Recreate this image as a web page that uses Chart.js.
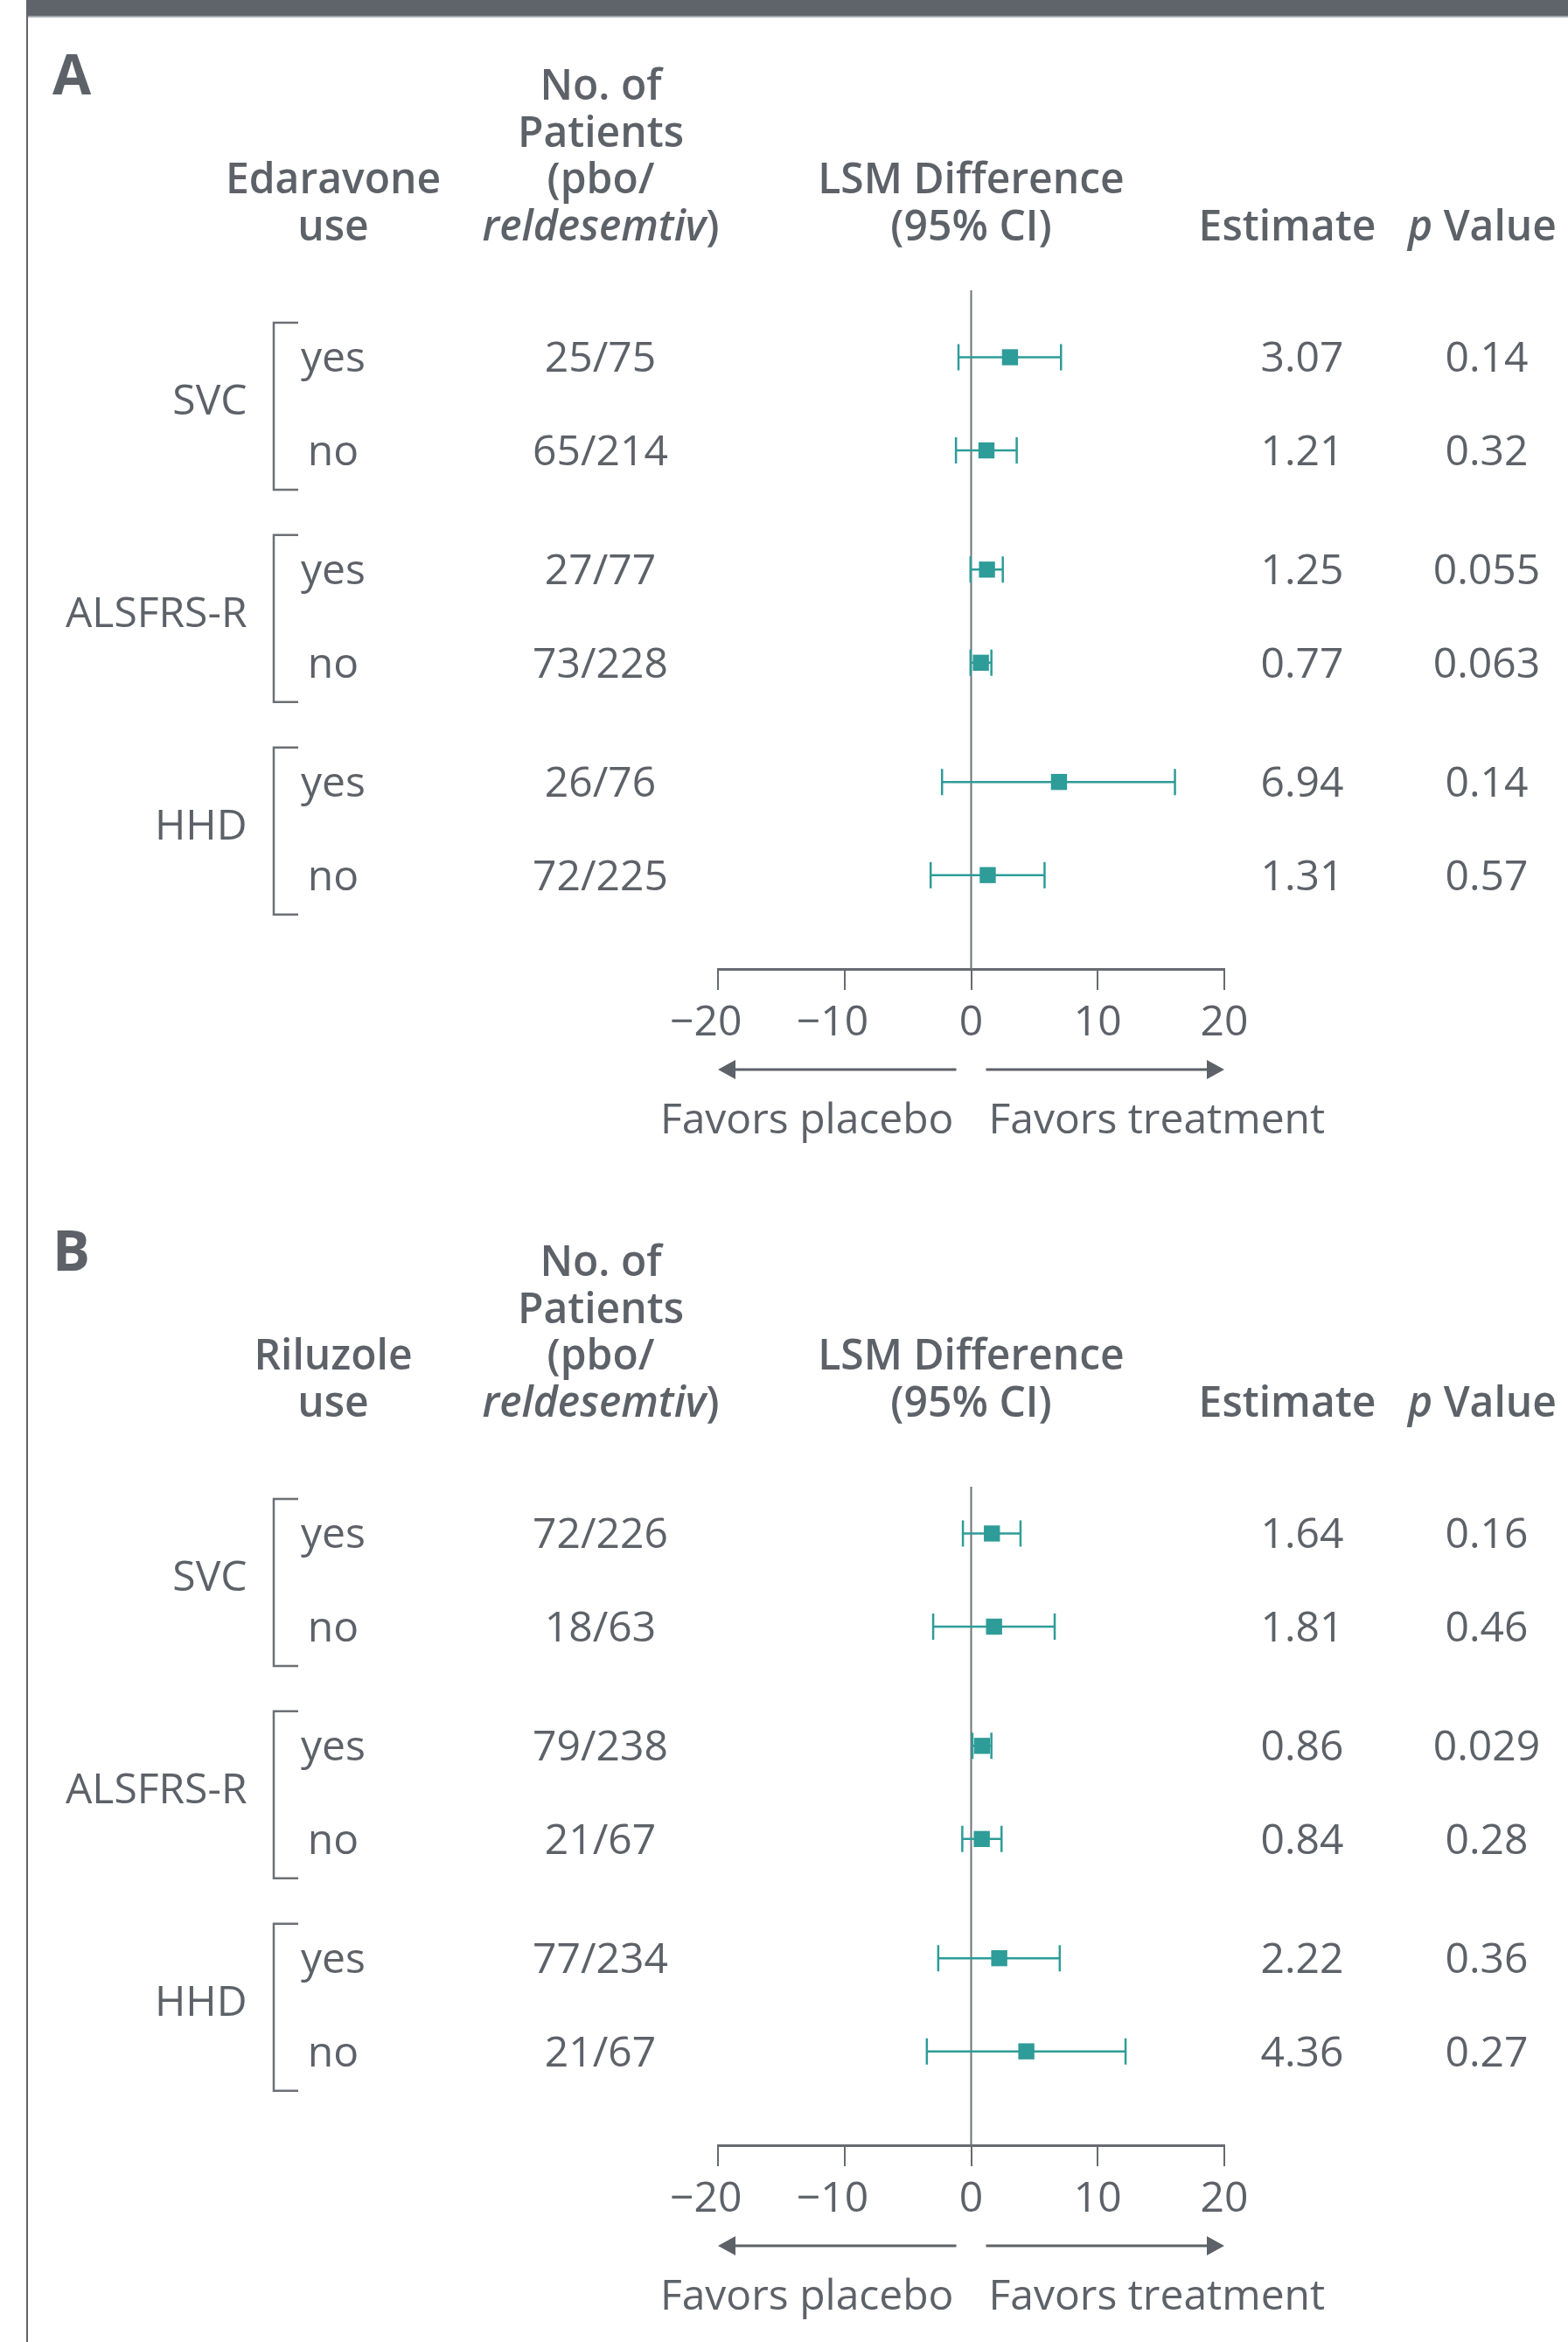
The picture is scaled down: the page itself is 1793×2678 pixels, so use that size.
<!DOCTYPE html>
<html>
<head>
<meta charset="utf-8">
<script src="https://cdn.jsdelivr.net/npm/chart.js@4.4.1/dist/chart.umd.min.js"></script>
<style>
    html, body { margin: 0; padding: 0; background: #fff; }
    #page {
        position: relative; width: 1793px; height: 2678px; overflow: hidden;
        background: #fff; font-family: 'Open Sans', 'Noto Sans', sans-serif; color: #5d6269;
    }
    .topbar { position: absolute; left: 30px; top: 0; width: 1763px; height: 18px; background: #5f646b; border-bottom: 2px solid #a5a9ad; }
    .frame { position: absolute; left: 30px; top: 0; width: 2px; height: 2678px; background: #60656c; z-index: 2; }
    .panel { position: absolute; left: 0; width: 1793px; }
    .panel canvas { position: absolute; left: 0; top: 0; }
    .t { position: absolute; white-space: nowrap; }
</style>
</head>
<body>
<div id="page">
    <div class="topbar"></div>
    <div class="frame"></div>
    <div class="panel" id="panelA" style="top:0;height:1345px"><canvas id="chartA" width="1793" height="1345"></canvas></div>
    <div class="panel" id="panelB" style="top:1345px;height:1333px"><canvas id="chartB" width="1793" height="1333"></canvas></div>
</div>
<script>
// ---- data ----
const outcomes = ['SVC', 'ALSFRS-R', 'HHD'];
const subgroups = ['yes', 'no'];
const xTicks = [-20, -10, 0, 10, 20];

// Panel A: Edaravone use
const edaPatients = ['25/75', '65/214', '27/77', '73/228', '26/76', '72/225'];
const edaEstimate = [3.07, 1.21, 1.25, 0.77, 6.94, 1.31];
const edaLower = [-1.0, -1.2, -0.05, -0.05, -2.3, -3.2];
const edaUpper = [7.1, 3.6, 2.5, 1.6, 16.1, 5.8];
const edaPValue = ['0.14', '0.32', '0.055', '0.063', '0.14', '0.57'];

// Panel B: Riluzole use
const rilPatients = ['72/226', '18/63', '79/238', '21/67', '77/234', '21/67'];
const rilEstimate = [1.64, 1.81, 0.86, 0.84, 2.22, 4.36];
const rilLower = [-0.65, -3.0, 0.1, -0.7, -2.6, -3.5];
const rilUpper = [3.9, 6.6, 1.6, 2.4, 7.0, 12.2];
const rilPValue = ['0.16', '0.46', '0.029', '0.28', '0.36', '0.27'];

// ---- layout / style ----
const TEXT = '#5d6269';
const AXIS = '#676b71';
const TEAL = '#2e9c98';
const FONT = "'Open Sans', 'Noto Sans', sans-serif";
const FIRST_ROW_Y = 408.5;
const ROW_STEP = 106.5;
const GROUP_GAP = 0.28;
const AXIS_Y = 1108;
const AXIS_H = 120;
const PLOT_LEFT = 821;
const PLOT_RIGHT = 1400;

const forestPlugin = {
    id: 'forest',
    beforeDatasetsDraw(chart, args, opts) {
        const ctx = chart.ctx;
        const xs = chart.scales.x;
        const ys = chart.scales.y;
        const area = chart.chartArea;
        ctx.save();
        // zero line
        const x0 = xs.getPixelForValue(0);
        ctx.strokeStyle = '#6f7378';
        ctx.lineWidth = 2;
        ctx.beginPath();
        ctx.moveTo(x0, area.top);
        ctx.lineTo(x0, area.bottom);
        ctx.stroke();
        // confidence intervals
        ctx.strokeStyle = TEAL;
        ctx.lineWidth = 2.5;
        opts.rows.forEach((r, i) => {
            const y = ys.getPixelForValue(r);
            const xl = xs.getPixelForValue(opts.lower[i]);
            const xh = xs.getPixelForValue(opts.upper[i]);
            ctx.beginPath();
            ctx.moveTo(xl, y); ctx.lineTo(xh, y);
            ctx.moveTo(xl, y - 15); ctx.lineTo(xl, y + 15);
            ctx.moveTo(xh, y - 15); ctx.lineTo(xh, y + 15);
            ctx.stroke();
        });
        ctx.restore();
    },
    afterDraw(chart, args, opts) {
        const ctx = chart.ctx;
        const xs = chart.scales.x;
        const ys = chart.scales.y;
        ctx.save();
        // brackets around yes/no pairs
        ctx.strokeStyle = '#6b7076';
        ctx.lineWidth = 2.5;
        outcomes.forEach((o, g) => {
            const top = ys.getPixelForValue(opts.rows[g * 2]) - 39.5;
            const bot = ys.getPixelForValue(opts.rows[g * 2 + 1]) + 45;
            ctx.beginPath();
            ctx.moveTo(341, top); ctx.lineTo(313, top);
            ctx.lineTo(313, bot); ctx.lineTo(341, bot);
            ctx.stroke();
        });
        // direction arrows
        const x0 = xs.getPixelForValue(0);
        const xl = xs.getPixelForValue(xTicks[0]);
        const xr = xs.getPixelForValue(xTicks[xTicks.length - 1]);
        const ay = chart.chartArea.bottom + 115;
        ctx.strokeStyle = TEXT;
        ctx.fillStyle = TEXT;
        ctx.lineWidth = 3;
        ctx.beginPath();
        ctx.moveTo(x0 - 17, ay); ctx.lineTo(xl + 10, ay);
        ctx.moveTo(x0 + 17, ay); ctx.lineTo(xr - 10, ay);
        ctx.stroke();
        ctx.beginPath();
        ctx.moveTo(xl, ay); ctx.lineTo(xl + 20, ay - 11); ctx.lineTo(xl + 20, ay + 11); ctx.closePath();
        ctx.moveTo(xr, ay); ctx.lineTo(xr - 20, ay - 11); ctx.lineTo(xr - 20, ay + 11); ctx.closePath();
        ctx.fill();
        ctx.restore();
    }
};

// text placed by its baseline; Open Sans baseline sits at 0.888em below the box top
function addText(parent, html, x, baseline, align, size, extra) {
    const d = document.createElement('div');
    d.className = 't';
    d.innerHTML = html;
    d.style.fontSize = size + 'px';
    d.style.lineHeight = size + 'px';
    d.style.top = (baseline - 0.888 * size) + 'px';
    d.style.left = x + 'px';
    if (align === 'center') d.style.transform = 'translateX(-50%)';
    if (align === 'right') d.style.transform = 'translateX(-100%)';
    if (extra) Object.assign(d.style, extra);
    parent.appendChild(d);
}

function buildPanel(cfg) {
    const panel = document.getElementById(cfg.panelId);
    const rows = cfg.estimate.map((_, i) => i + Math.floor(i / 2) * GROUP_GAP);
    const yMin = (cfg.plotTop - FIRST_ROW_Y) / ROW_STEP;
    const yMax = (AXIS_Y - FIRST_ROW_Y) / ROW_STEP;

    const chart = new Chart(document.getElementById(cfg.canvasId), {
        type: 'scatter',
        data: {
            datasets: [{
                data: cfg.estimate.map((v, i) => ({ x: v, y: rows[i] })),
                backgroundColor: TEAL,
                pointStyle: 'rect',
                pointRadius: 13,
                pointHoverRadius: 13,
                borderWidth: 0
            }]
        },
        options: {
            responsive: false,
            animation: false,
            devicePixelRatio: 1,
            events: [],
            layout: {
                padding: { left: PLOT_LEFT, right: 1793 - PLOT_RIGHT, top: cfg.plotTop, bottom: cfg.height - AXIS_Y - AXIS_H }
            },
            plugins: {
                legend: { display: false },
                tooltip: { enabled: false },
                forest: { rows: rows, lower: cfg.lower, upper: cfg.upper }
            },
            scales: {
                x: {
                    type: 'linear',
                    position: 'bottom',
                    min: xTicks[0],
                    max: xTicks[xTicks.length - 1],
                    afterBuildTicks: s => { s.ticks = xTicks.map(v => ({ value: v })); },
                    afterFit: s => { s.height = AXIS_H; },
                    ticks: {
                        autoSkip: false,
                        maxRotation: 0,
                        padding: 10,
                        color: TEXT,
                        font: { family: FONT, size: 48 },
                        // keep the digits centred on the tick, the minus hangs to the left
                        callback: v => (v < 0 ? '\u2212' + Math.abs(v) + '\u2007' : String(v))
                    },
                    grid: { drawOnChartArea: false, drawTicks: true, tickLength: 24, color: AXIS, lineWidth: 2 },
                    border: { display: true, color: AXIS, width: 3 }
                },
                y: { type: 'linear', display: false, reverse: true, min: yMin, max: yMax }
            }
        },
        plugins: [forestPlugin]
    });

    // ---- text columns ----
    const xs = chart.scales.x;
    const ys = chart.scales.y;
    const x0 = xs.getPixelForValue(0);
    const hdr = { fontWeight: '600' };
    const lbl = { fontWeight: '500' };

    addText(panel, cfg.letter, 60, 109, 'left', 64, { fontWeight: '700' });

    addText(panel, cfg.drug, 381, 222, 'center', 48, hdr);
    addText(panel, 'use', 381, 275.5, 'center', 48, hdr);
    addText(panel, 'No. of', 687, 115, 'center', 48, hdr);
    addText(panel, 'Patients', 687, 168.5, 'center', 48, hdr);
    addText(panel, '(pbo/', 687, 222, 'center', 48, hdr);
    addText(panel, '<i>reldesemtiv</i>)', 687, 275.5, 'center', 48, hdr);
    addText(panel, 'LSM Difference', x0, 222, 'center', 48, hdr);
    addText(panel, '(95% CI)', x0, 275.5, 'center', 48, hdr);
    addText(panel, 'Estimate', 1472, 275.5, 'center', 48, hdr);
    addText(panel, '<i>p</i> Value', 1695, 275.5, 'center', 48, hdr);

    outcomes.forEach((o, g) => {
        const mid = (ys.getPixelForValue(rows[g * 2]) + ys.getPixelForValue(rows[g * 2 + 1])) / 2;
        addText(panel, o, 282.5, mid + 13, 'right', 48, lbl);
    });

    rows.forEach((r, i) => {
        const base = ys.getPixelForValue(r) + 17.5;
        addText(panel, subgroups[i % 2], 381, base, 'center', 48, lbl);
        addText(panel, cfg.patients[i], 686.5, base, 'center', 48);
        addText(panel, cfg.estimate[i].toFixed(2), 1489, base, 'center', 48);
        addText(panel, cfg.pValue[i], 1700, base, 'center', 48);
    });

    addText(panel, 'Favors placebo', x0 - 20, AXIS_Y + 189, 'right', 48);
    addText(panel, 'Favors treatment', x0 + 20, AXIS_Y + 189, 'left', 48);
}

document.addEventListener('DOMContentLoaded', () => {
    buildPanel({
        panelId: 'panelA', canvasId: 'chartA', letter: 'A', drug: 'Edaravone',
        height: 1345, plotTop: 332,
        patients: edaPatients, estimate: edaEstimate, lower: edaLower, upper: edaUpper, pValue: edaPValue
    });
    buildPanel({
        panelId: 'panelB', canvasId: 'chartB', letter: 'B', drug: 'Riluzole',
        height: 1333, plotTop: 355,
        patients: rilPatients, estimate: rilEstimate, lower: rilLower, upper: rilUpper, pValue: rilPValue
    });
});
</script>
</body>
</html>
